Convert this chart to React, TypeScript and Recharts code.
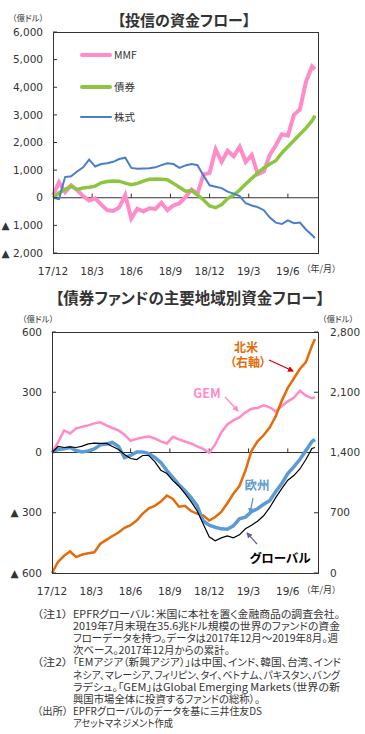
import React from "react";
import { LineChart, Line, XAxis, YAxis, ReferenceLine } from "recharts";

// week index from 2017/12 (13 weeks ~ 3 months)
const weeks = [0, 2, 4, 6, 8, 10, 12, 14, 16, 18, 20, 22, 24, 26, 28, 30, 32, 34, 36, 38, 40, 42, 44, 46, 48, 50, 52, 54, 56, 58, 60, 62, 64, 66, 68, 70, 72, 74, 76, 78, 80, 82, 84, 86, 87];
const tickWeeks = [0, 13, 26, 39, 52, 65, 78];
const tickLabels = ["17/12", "18/3", "18/6", "18/9", "18/12", "19/3", "19/6"];

// 投信の資金フロー (億ドル)
const mmf = [100, 560, 200, 450, 280, 60, -100, -20, -250, -450, -480, -350, 100, -750, -400, -500, -380, -400, -180, -450, -280, -200, 20, 300, 150, 850, 900, 1750, 1300, 1700, 1500, 1850, 1300, 1550, 850, 950, 1550, 1900, 2300, 2250, 3000, 3200, 4200, 4750, 4650];
const bonds = [0, 180, 300, 420, 300, 350, 380, 420, 540, 590, 610, 600, 530, 470, 520, 600, 670, 680, 670, 650, 520, 380, 240, 260, 100, -80, -300, -360, -250, -30, 100, 280, 500, 700, 900, 1080, 1220, 1340, 1620, 1850, 2070, 2300, 2520, 2780, 2970];
const stocks = [0, -50, 750, 780, 950, 1100, 1380, 1130, 1220, 1250, 1300, 1400, 1450, 1080, 1050, 1060, 1070, 1100, 1180, 1250, 1220, 1080, 1170, 1220, 1180, 800, 450, 400, 350, 220, 150, 60, -200, -280, -340, -450, -720, -900, -950, -820, -920, -900, -1150, -1350, -1460];

// 債券ファンドの主要地域別資金フロー (億ドル)
const gem = [0, 50, 110, 95, 120, 128, 135, 145, 150, 135, 122, 110, 88, 58, 68, 75, 80, 70, 55, 45, 78, 65, 55, 45, 30, 18, -2, 40, 100, 140, 160, 175, 200, 218, 222, 235, 225, 205, 230, 255, 272, 308, 283, 270, 275];
const europe = [0, 15, 18, 25, 10, 3, 8, 18, 38, 42, 50, 30, -25, -15, 2, 3, -5, -25, -50, -90, -125, -160, -190, -225, -265, -340, -362, -372, -380, -382, -365, -330, -322, -295, -280, -258, -240, -195, -155, -105, -72, -35, 10, 55, 65];
const globalFlow = [0, 30, 25, 28, 25, 32, 43, 47, 45, 45, 30, 15, -10, -30, -35, -15, -15, -45, -88, -105, -140, -168, -205, -245, -290, -355, -420, -440, -425, -415, -425, -410, -380, -362, -342, -315, -275, -225, -180, -138, -115, -82, -35, 20, 25];
const northAmerica = [0, 130, 200, 250, 185, 215, 230, 240, 340, 385, 430, 470, 525, 555, 610, 690, 750, 780, 830, 900, 860, 770, 780, 720, 690, 670, 610, 650, 710, 810, 920, 1010, 1190, 1420, 1530, 1600, 1690, 1820, 2000, 2150, 2260, 2370, 2450, 2640, 2720];

const topData = weeks.map((w, i) => ({ week: w, mmf: mmf[i], bonds: bonds[i], stocks: stocks[i] }));
const bottomData = weeks.map((w, i) => ({ week: w, gem: gem[i], europe: europe[i], global: globalFlow[i], na: northAmerica[i] }));

const NUM_FONT = "'DejaVu Sans', Verdana, sans-serif";
const JP_FONT = "'Noto Sans CJK JP', 'DejaVu Sans', sans-serif";
const TEXT = "#333";

const fmt = (v: number) => (v < 0 ? `▲\u00A0${Math.abs(v).toLocaleString("en-US")}` : v.toLocaleString("en-US"));
const fmtWeek = (w: number) => tickLabels[tickWeeks.indexOf(w)] ?? "";
const tickStyle = { fontSize: 10.5, fill: TEXT, fontFamily: NUM_FONT };

// [head, body, body width in px]
const notes: [string, string, number][] = [
  ["（注1）", "EPFRグローバル：米国に本社を置く金融商品の調査会社。", 267],
  ["", "2019年7月末現在35.6兆ドル規模の世界のファンドの資金", 267],
  ["", "フローデータを持つ。データは2017年12月～2019年8月。週", 265],
  ["", "次ベース。2017年12月からの累計。", 157],
  ["（注2）", "「EMアジア（新興アジア）」は中国、インド、韓国、台湾、インド", 268],
  ["", "ネシア、マレーシア、フィリピン、タイ、ベトナム、パキスタン、バング", 267],
  ["", "ラデシュ。「GEM」はGlobal Emerging Markets（世界の新", 267],
  ["", "興国市場全体に投資するファンドの総称）。", 187],
  ["（出所）", "EPFRグローバルのデータを基に三井住友DS", 189],
  ["", "アセットマネジメント作成", 100],
];

function Txt({ x, y, children, size = 10.5, color = TEXT, bold = false, anchor = "center" }: any) {
  const tx = anchor === "center" ? "-50%" : anchor === "end" ? "-100%" : "0";
  return (
    <div style={{ position: "absolute", left: x, top: y, transform: `translate(${tx}, -50%)`, fontSize: size, color, fontWeight: bold ? 700 : 400, fontFamily: JP_FONT, fontFeatureSettings: '"palt"', whiteSpace: "nowrap", lineHeight: 1 }}>
      {children}
    </div>
  );
}

function Frame({ left, top, width, height }: any) {
  return <div style={{ position: "absolute", left, top, width, height, boxSizing: "border-box", border: `1px solid ${TEXT}`, pointerEvents: "none" }} />;
}

export default function App() {
  return (
    <div style={{ position: "absolute", left: 0, top: 0, width: 365, height: 734, background: "#fff", overflow: "hidden" }}>
      {/* top chart */}
      <Txt x={184} y={19} size={15} bold>【投信の資金フロー】</Txt>
      <Txt x={28} y={17} size={8.5}>（億ドル）</Txt>
      <div style={{ position: "absolute", left: 0, top: 0 }}>
        <LineChart width={365} height={280} data={topData} margin={{ top: 32, right: 47, left: 0, bottom: 0 }}>
          <XAxis dataKey="week" type="number" domain={[0, 88]} ticks={tickWeeks} tickFormatter={fmtWeek} axisLine={false} tickLine={false} tickMargin={9} height={27} tick={tickStyle} interval={0} />
          <YAxis type="number" domain={[-2000, 6000]} ticks={[-2000, -1000, 0, 1000, 2000, 3000, 4000, 5000, 6000]} tickFormatter={fmt} axisLine={false} tickLine={{ stroke: TEXT }} tickSize={-4} tickMargin={14} width={53} tick={tickStyle} interval={0} />
          <ReferenceLine y={0} stroke={TEXT} strokeWidth={1} />
          {tickWeeks.slice(1).map((w) => (
            <ReferenceLine key={w} segment={[{ x: w, y: 0 }, { x: w, y: 150 }]} stroke={TEXT} />
          ))}
          <Line dataKey="mmf" stroke="#FF8BC8" strokeWidth={4} dot={false} isAnimationActive={false} />
          <Line dataKey="bonds" stroke="#8CC63F" strokeWidth={3.5} dot={false} isAnimationActive={false} />
          <Line dataKey="stocks" stroke="#4A7DCC" strokeWidth={2} dot={false} isAnimationActive={false} />
        </LineChart>
      </div>
      <Frame left={53} top={32} width={266} height={222} />
      {/* legend */}
      {[
        ["MMF", "#FF8BC8", 4, 55],
        ["債券", "#8CC63F", 3.5, 87],
        ["株式", "#4A7DCC", 2, 117],
      ].map(([label, color, w, y]: any) => (
        <React.Fragment key={label}>
          <div style={{ position: "absolute", left: 80, top: y - w / 2, width: 32, height: w, background: color, borderRadius: 2 }} />
          <Txt x={114} y={y} anchor="start" size={10.5}>{label}</Txt>
        </React.Fragment>
      ))}
      <Txt x={306} y={268} size={9} anchor="start">（年/月）</Txt>

      {/* bottom chart */}
      <Txt x={190} y={298} size={15.5} bold>【債券ファンドの主要地域別資金フロー】</Txt>
      <Txt x={38} y={318} size={8.5}>（億ドル）</Txt>
      <Txt x={338} y={318} size={8.5}>（億ドル）</Txt>
      <div style={{ position: "absolute", left: 0, top: 300 }}>
        <LineChart width={365} height={300} data={bottomData} margin={{ top: 32, right: 0, left: 0, bottom: 0 }}>
          <XAxis dataKey="week" type="number" domain={[0, 88]} ticks={tickWeeks} tickFormatter={fmtWeek} axisLine={false} tickLine={false} tickMargin={9} height={27} tick={tickStyle} interval={0} />
          <YAxis yAxisId="left" type="number" domain={[-600, 600]} ticks={[-600, -300, 0, 300, 600]} tickFormatter={fmt} axisLine={false} tickLine={{ stroke: TEXT }} tickSize={-4} tickMargin={14} width={52} tick={tickStyle} interval={0} />
          <YAxis yAxisId="right" orientation="right" type="number" domain={[0, 2800]} ticks={[0, 700, 1400, 2100, 2800]} tickFormatter={fmt} axisLine={false} tickLine={{ stroke: TEXT }} tickSize={-4} tickMargin={16} width={47} tick={tickStyle} interval={0} />
          <ReferenceLine yAxisId="left" y={0} stroke={TEXT} strokeWidth={1} />
          {tickWeeks.slice(1).map((w) => (
            <ReferenceLine key={w} yAxisId="left" segment={[{ x: w, y: 0 }, { x: w, y: 20 }]} stroke={TEXT} />
          ))}
          <Line yAxisId="left" dataKey="gem" stroke="#FF8BC8" strokeWidth={2.5} dot={false} isAnimationActive={false} />
          <Line yAxisId="right" dataKey="na" stroke="#E46C0A" strokeWidth={2.5} dot={false} isAnimationActive={false} />
          <Line yAxisId="left" dataKey="europe" stroke="#5B9BD5" strokeWidth={3.5} dot={false} isAnimationActive={false} />
          <Line yAxisId="left" dataKey="global" stroke="#000" strokeWidth={1.2} dot={false} isAnimationActive={false} />
        </LineChart>
      </div>
      <Frame left={52} top={332} width={267} height={242} />
      <Txt x={306} y={589} size={9} anchor="start">（年/月）</Txt>

      {/* annotations */}
      <Txt x={246} y={347} size={12} bold color="#E46C0A">北米</Txt>
      <Txt x={248} y={362} size={12} bold color="#E46C0A">（右軸）</Txt>
      <Txt x={207} y={393} size={12.5} bold color="#FF8BC8">GEM</Txt>
      <Txt x={257} y={485} size={12.5} bold color="#5B9BD5">欧州</Txt>
      <Txt x={280} y={558} size={12.5} bold color="#000">グローバル</Txt>
      <svg width={365} height={734} style={{ position: "absolute", left: 0, top: 0, pointerEvents: "none" }}>
        <defs>
          {[["red", "#E00000"], ["pink", "#FF8BC8"], ["blue", "#5B9BD5"], ["purple", "#6E5E8E"]].map(([id, c]) => (
            <marker key={id} id={`ah-${id}`} markerWidth={6} markerHeight={6} refX={5} refY={3} orient="auto" markerUnits="userSpaceOnUse">
              <path d="M0,0 L6,3 L0,6 Z" fill={c} />
            </marker>
          ))}
        </defs>
        <line x1={269} y1={360} x2={293} y2={371} stroke="#E00000" strokeWidth={1.3} markerEnd="url(#ah-red)" />
        <line x1={225} y1={397} x2={238} y2={411} stroke="#FF8BC8" strokeWidth={1.3} markerEnd="url(#ah-pink)" />
        <line x1={253} y1={498} x2={250} y2={513} stroke="#5B9BD5" strokeWidth={1.3} markerEnd="url(#ah-blue)" />
        <line x1={257} y1={544} x2={247} y2={533} stroke="#6E5E8E" strokeWidth={1.3} markerEnd="url(#ah-purple)" />
        {/* notes */}
        <g fontFamily={JP_FONT} fontSize={10.3} fill={TEXT} style={{ fontFeatureSettings: '"palt"' }}>
          {notes.map(([head, body, len], i) => (
            <React.Fragment key={i}>
              {head && (
                <text x={37} y={618 + i * 12.1} textLength={31} lengthAdjust="spacingAndGlyphs">{head}</text>
              )}
              <text x={73} y={618 + i * 12.1} textLength={len} lengthAdjust="spacingAndGlyphs">{body}</text>
            </React.Fragment>
          ))}
        </g>
      </svg>
    </div>
  );
}
